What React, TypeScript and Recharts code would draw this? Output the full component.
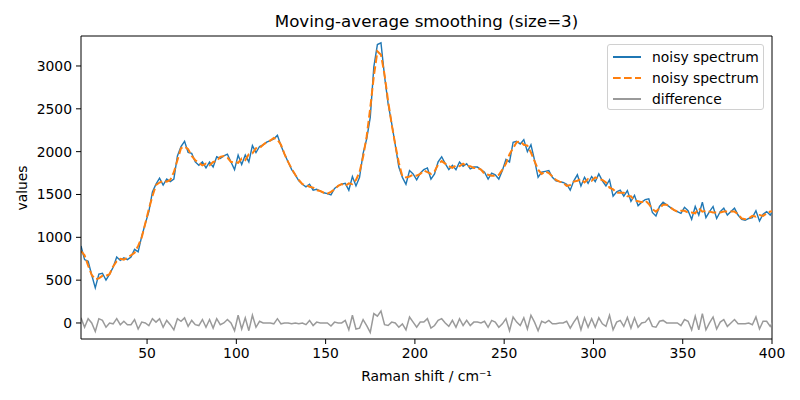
import React from 'react';
import {
  LineChart,
  Line,
  XAxis,
  YAxis,
  ReferenceLine,
} from 'recharts';

// Raman shift axis: samples every 2 cm^-1 starting at 13
const SHIFT_START = 13;
const SHIFT_STEP = 2;

const noisy = [
  900, 740, 720, 560, 410, 570, 580, 500, 570, 650,
  770, 730, 760, 740, 770, 860, 830, 1010, 1160, 1300,
  1530, 1620, 1690, 1610, 1680, 1650, 1680, 1950, 2060, 2120,
  1990, 1980, 1880, 1840, 1880, 1810, 1880, 1820, 1940, 1920,
  1950, 1970, 1880, 1790, 1960, 1850, 1960, 1880, 2070, 1990,
  2060, 2080, 2110, 2130, 2150, 2190, 2070, 1970, 1880, 1790,
  1730, 1660, 1620, 1590, 1620, 1550, 1560, 1540, 1520, 1510,
  1495, 1570, 1600, 1620, 1630, 1550, 1710, 1600, 1700, 1980,
  2150, 2400, 2990, 3250, 3270, 2880, 2560, 2330, 2080, 1820,
  1700, 1620, 1780, 1740, 1670, 1750, 1790, 1810, 1680, 1740,
  1880, 1940, 1860, 1790, 1840, 1790, 1880, 1830, 1860, 1800,
  1820, 1820, 1790, 1760, 1680, 1750, 1730, 1680, 1780, 1910,
  1880, 2110, 2120, 2090, 2140, 2000, 2080, 1900, 1700, 1760,
  1770, 1780, 1700, 1660, 1650, 1640, 1620, 1550, 1660, 1730,
  1600, 1700, 1630, 1710, 1650, 1740, 1660, 1600, 1670, 1480,
  1530, 1550, 1480, 1545, 1420, 1490, 1370, 1410, 1440, 1450,
  1290, 1250, 1360, 1410, 1380, 1350, 1320, 1300, 1280, 1350,
  1310, 1210, 1360, 1260, 1410, 1230, 1300, 1360, 1220, 1300,
  1340, 1260, 1300, 1340, 1260, 1210, 1200, 1220, 1230, 1310,
  1190, 1270, 1300, 1260, 1330,
];

const smoothed = [
  840, 790, 670, 560, 510, 520, 550, 550, 570, 660,
  720, 750, 740, 760, 790, 820, 900, 1000, 1160, 1330,
  1480, 1610, 1640, 1660, 1650, 1670, 1760, 1900, 2040, 2060,
  2030, 1950, 1900, 1870, 1840, 1860, 1840, 1880, 1890, 1940,
  1950, 1930, 1880, 1880, 1870, 1920, 1900, 1970, 1980, 2040,
  2040, 2080, 2110, 2130, 2160, 2140, 2080, 1970, 1880, 1800,
  1730, 1670, 1620, 1610, 1590, 1580, 1550, 1540, 1520, 1510,
  1530, 1560, 1600, 1620, 1600, 1630, 1620, 1670, 1760, 1940,
  2180, 2510, 2880, 3170, 3130, 2900, 2590, 2320, 2080, 1870,
  1710, 1700, 1710, 1730, 1720, 1740, 1780, 1760, 1740, 1770,
  1850, 1890, 1860, 1830, 1810, 1840, 1830, 1860, 1830, 1830,
  1810, 1810, 1790, 1740, 1730, 1720, 1720, 1730, 1790, 1860,
  1970, 2040, 2110, 2120, 2080, 2070, 1990, 1890, 1790, 1740,
  1770, 1750, 1710, 1670, 1650, 1640, 1600, 1610, 1650, 1660,
  1680, 1640, 1680, 1660, 1700, 1680, 1670, 1640, 1580, 1560,
  1520, 1520, 1520, 1480, 1480, 1430, 1420, 1410, 1430, 1390,
  1330, 1300, 1340, 1380, 1380, 1350, 1320, 1300, 1310, 1310,
  1290, 1290, 1280, 1340, 1300, 1310, 1300, 1290, 1290, 1290,
  1300, 1300, 1300, 1300, 1270, 1220, 1210, 1220, 1250, 1240,
  1260, 1250, 1280, 1300, 1300,
];

const difference = [
  60, -50, 50, 0, -100, 50, 30, -50, 0, -10,
  50, -20, 20, -20, -20, 40, -70, 10, 0, -30,
  50, 10, 50, -50, 30, -20, -80, 50, 20, 60,
  -40, 30, -20, -30, 40, -50, 40, -60, 50, -20,
  0, 40, 0, -90, 90, -70, 60, -90, 90, -50,
  20, 0, 0, 0, -10, 50, -10, 0, 0, -10,
  0, -10, 0, -20, 30, -30, 10, 0, 0, 0,
  -35, 10, 0, 0, 30, -80, 90, -70, -60, 40,
  -30, -110, 110, 80, 140, -20, -30, 10, 0, -50,
  -10, -80, 70, 10, -50, 10, 10, 50, -60, -30,
  30, 50, 0, -40, 30, -50, 50, -30, 30, -30,
  10, 10, 0, 20, -50, 30, 10, -50, -10, 50,
  -90, 70, 10, -30, 60, -70, 90, 10, -90, 20,
  0, 30, -10, -10, 0, 0, 20, -60, 10, 70,
  -80, 60, -50, 50, -50, 60, -10, -40, 90, -80,
  10, 30, -40, 65, -60, 60, -50, 0, 10, 60,
  -40, -50, 20, 30, 0, 0, 0, 0, -30, 40,
  20, -80, 80, -80, 110, -80, 0, 70, -70, 10,
  40, -40, 0, 40, -10, -10, -10, 0, -20, 70,
  -70, 20, 20, -40, 30,
];

const xTicks = [50, 100, 150, 200, 250, 300, 350, 400];
const yTicks = [0, 500, 1000, 1500, 2000, 2500, 3000];
const X_DOMAIN: [number, number] = [13, 400];
const Y_DOMAIN: [number, number] = [-187, 3350];

const BLUE = '#1f77b4';
const ORANGE = '#ff7f0e';
const GRAY = '#9a9a9a';
const FONT = '"DejaVu Sans", sans-serif';

const rows = noisy.map((v, i) => ({
  shift: SHIFT_START + SHIFT_STEP * i,
  noisy: v,
  smoothed: smoothed[i],
  difference: difference[i],
}));

const legendItems = [
  { label: 'noisy spectrum', color: BLUE, dash: undefined as string | undefined },
  { label: 'noisy spectrum', color: ORANGE, dash: '7.7 3.3' },
  { label: 'difference', color: GRAY, dash: undefined as string | undefined },
];

const tickStyle = { fontSize: 13.9, fill: '#000', fontFamily: FONT };

export default function App() {
  return (
    <div
      style={{
        position: 'absolute',
        left: 0,
        top: 0,
        width: 800,
        height: 400,
        background: '#fff',
        fontFamily: FONT,
      }}
    >
      <LineChart
        width={800}
        height={400}
        data={rows}
        margin={{ top: 36, right: 28, bottom: 31, left: 0 }}
      >
        <XAxis
          type="number"
          dataKey="shift"
          domain={X_DOMAIN}
          allowDataOverflow
          ticks={xTicks}
          height={30}
          tick={tickStyle}
          tickSize={5}
          tickMargin={4}
          axisLine={{ stroke: '#000', strokeWidth: 1 }}
          tickLine={{ stroke: '#000' }}
        />
        <YAxis
          type="number"
          domain={Y_DOMAIN}
          allowDataOverflow
          ticks={yTicks}
          width={81}
          tick={tickStyle}
          tickSize={5}
          tickMargin={4}
          axisLine={{ stroke: '#000', strokeWidth: 1 }}
          tickLine={{ stroke: '#000' }}
        />
        <ReferenceLine y={Y_DOMAIN[1]} stroke="#000" strokeWidth={1} />
        <ReferenceLine x={X_DOMAIN[1]} stroke="#000" strokeWidth={1} />
        <Line
          type="linear"
          dataKey="noisy"
          stroke={BLUE}
          strokeWidth={1.4}
          dot={false}
          isAnimationActive={false}
        />
        <Line
          type="linear"
          dataKey="smoothed"
          stroke={ORANGE}
          strokeWidth={2}
          strokeDasharray="7.7 3.3"
          dot={false}
          isAnimationActive={false}
        />
        <Line
          type="linear"
          dataKey="difference"
          stroke={GRAY}
          strokeWidth={1.5}
          dot={false}
          isAnimationActive={false}
        />
      </LineChart>

      <div
        style={{
          position: 'absolute',
          left: 81,
          width: 691,
          top: 11,
          textAlign: 'center',
          fontSize: 16.7,
          lineHeight: '20px',
        }}
      >
        Moving-average smoothing (size=3)
      </div>

      <div
        style={{
          position: 'absolute',
          left: 81,
          width: 691,
          top: 367,
          textAlign: 'center',
          fontSize: 13.9,
          lineHeight: '18px',
        }}
      >
        Raman shift / cm⁻¹
      </div>

      <div
        style={{
          position: 'absolute',
          left: 22,
          top: 188,
          transform: 'translate(-50%, -50%) rotate(-90deg)',
          fontSize: 13.9,
          lineHeight: '18px',
          whiteSpace: 'nowrap',
        }}
      >
        values
      </div>

      <div
        style={{
          position: 'absolute',
          left: 607,
          top: 44,
          width: 157,
          height: 66,
          border: '1px solid #d0d0d0',
          borderRadius: 3,
          background: 'rgba(255,255,255,0.8)',
          boxSizing: 'border-box',
        }}
      >
        {legendItems.map((item, i) => (
          <div
            key={i}
            style={{
              position: 'absolute',
              left: 5,
              top: 2 + i * 21.2,
              height: 20,
              display: 'flex',
              alignItems: 'center',
              fontSize: 13.9,
              whiteSpace: 'nowrap',
            }}
          >
            <svg width={28} height={8} style={{ marginRight: 11 }}>
              <line
                x1={0}
                y1={4}
                x2={28}
                y2={4}
                stroke={item.color}
                strokeWidth={2}
                strokeDasharray={item.dash}
              />
            </svg>
            <span>{item.label}</span>
          </div>
        ))}
      </div>
    </div>
  );
}
